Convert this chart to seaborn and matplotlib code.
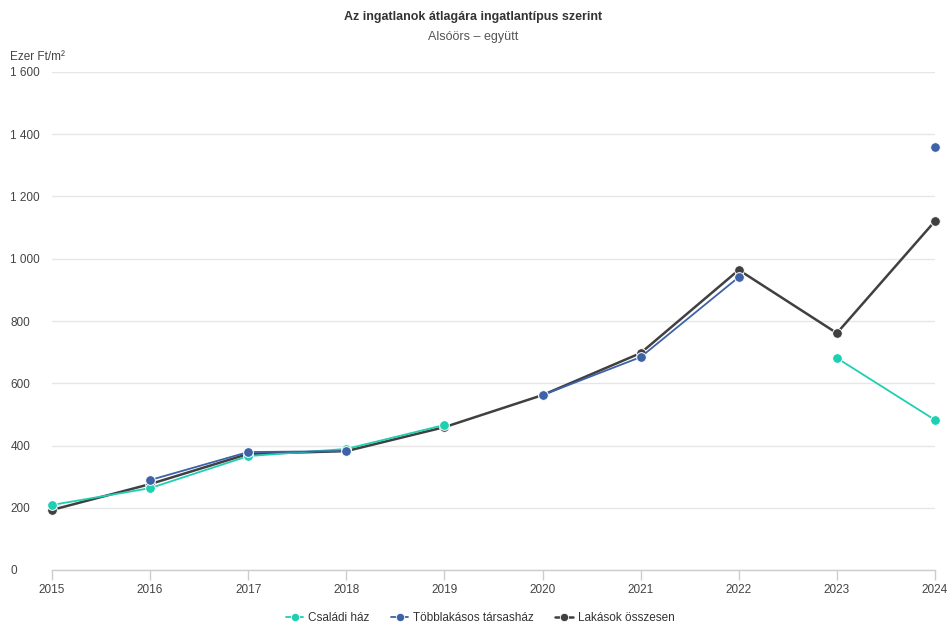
import numpy as np
import pandas as pd
import matplotlib
matplotlib.use("Agg")
import matplotlib.pyplot as plt
from matplotlib.ticker import FuncFormatter
from matplotlib.lines import Line2D
import seaborn as sns

# Data (ezer Ft/m2), NaN = no data
years = list(range(2015, 2025))
csaladi_haz = [209, 263, 366, 389, 466, np.nan, np.nan, np.nan, 681, 482]
tobblakasos = [np.nan, 289, 379, 382, np.nan, 562, 684, 941, np.nan, 1359]
osszesen = [193, 276, 373, 382, 459, 562, 697, 964, 761, 1121]

series_names = ["Családi ház", "Többlakásos társasház", "Lakások összesen"]
series_values = [csaladi_haz, tobblakasos, osszesen]
colors = ["#1fcfb1", "#3e62a8", "#404040"]
line_widths = [1.3, 1.3, 1.8]
z_orders = [3, 4, 2]

sns.set_theme(style="white")
plt.rcParams["font.family"] = ["Liberation Sans", "DejaVu Sans"]

fig = plt.figure(figsize=(9.47, 6.24), dpi=100)
ax = fig.add_axes([52 / 947, 54 / 624, (935 - 52) / 947, (570 - 72) / 624])

# long table with a segment id so gaps in the data stay gaps
rows = []
for name, vals in zip(series_names, series_values):
    seg = 0
    for y, v in zip(years, vals):
        if np.isnan(v):
            seg += 1
            continue
        rows.append({"series": name, "year": y, "value": v, "segment": seg})
df = pd.DataFrame(rows)

for name, color, lw, z in zip(series_names, colors, line_widths, z_orders):
    sub = df[df["series"] == name]
    sns.lineplot(data=sub, x="year", y="value", units="segment", estimator=None,
                 color=color, linewidth=lw, marker="o", markersize=7,
                 markeredgecolor="white", markeredgewidth=0.7,
                 zorder=z, clip_on=False, legend=False, ax=ax)

ax.set_xlim(2015, 2024)
ax.set_ylim(0, 1600)
ax.set_xticks(years)
ax.set_yticks(range(0, 1601, 200))
ax.yaxis.set_major_formatter(FuncFormatter(lambda v, p: f"{int(v):,}".replace(",", " ")))
ax.grid(axis="y", color="#e6e6e6", linewidth=1)
ax.set_axisbelow(True)
for s in ["top", "right", "left"]:
    ax.spines[s].set_visible(False)
ax.spines["bottom"].set_color("#cccccc")
ax.spines["bottom"].set_linewidth(1)
ax.tick_params(axis="x", bottom=True, length=7, width=1, color="#cccccc",
               labelsize=8.5, labelcolor="#444444", pad=3)
ax.tick_params(axis="y", left=False, length=0, labelsize=8.5,
               labelcolor="#444444", pad=30)
for lbl in ax.get_yticklabels():
    lbl.set_horizontalalignment("left")
ax.set_xlabel("")
ax.set_ylabel("")

fig.text(10 / 947, 1 - 57 / 624, "Ezer Ft/m²", fontsize=8.5, color="#444444",
         ha="left", va="center")
fig.text(0.5, 1 - 17 / 624, "Az ingatlanok átlagára ingatlantípus szerint",
         fontsize=9, fontweight="bold", color="#333333", ha="center", va="center")
fig.text(0.5, 1 - 37 / 624, "Alsóörs – együtt", fontsize=9, color="#555555",
         ha="center", va="center")

handles = [Line2D([0], [0], color=c, linewidth=lw, marker="o", markersize=6,
                  markeredgecolor="white", markeredgewidth=0.6)
           for c, lw in zip(colors, line_widths)]
fig.legend(handles, series_names, loc="center", bbox_to_anchor=(480 / 947, 1 - 618 / 624),
           ncol=3, frameon=False, fontsize=8.5, handlelength=1.5, columnspacing=1.8,
           handletextpad=0.4, labelcolor="#333333")

fig.savefig("out.png", dpi=100)
